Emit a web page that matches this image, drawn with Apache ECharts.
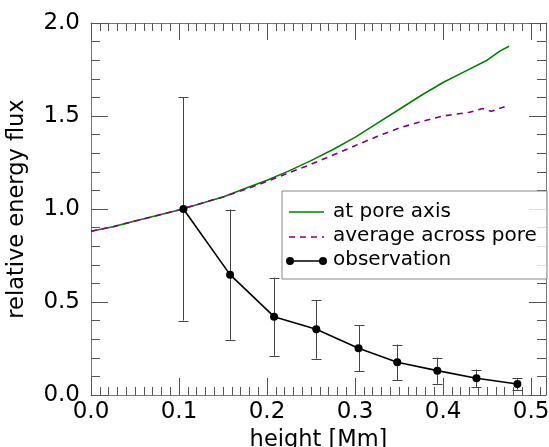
<!DOCTYPE html>
<html>
<head>
<meta charset="utf-8">
<script src="https://cdn.jsdelivr.net/npm/echarts@6/dist/echarts.min.js"></script>
<style>html,body{margin:0;padding:0;background:#fff;}#c{width:549px;height:447px;}</style>
</head>
<body>
<div id="c"></div>
<script>
// ---- data ----
const axisX = [0, 0.025, 0.05, 0.075, 0.1, 0.125, 0.15, 0.175, 0.2, 0.225, 0.25, 0.275, 0.3, 0.325, 0.35, 0.375, 0.4, 0.425, 0.45, 0.465, 0.475];
const axisY = [0.88, 0.905, 0.935, 0.965, 0.995, 1.03, 1.065, 1.11, 1.155, 1.205, 1.26, 1.32, 1.385, 1.46, 1.535, 1.61, 1.68, 1.74, 1.80, 1.85, 1.875];
const avgX = [0, 0.025, 0.05, 0.075, 0.1, 0.125, 0.15, 0.175, 0.2, 0.225, 0.25, 0.275, 0.3, 0.325, 0.35, 0.375, 0.4, 0.415, 0.43, 0.445, 0.455, 0.47];
const avgY = [0.88, 0.905, 0.935, 0.965, 0.995, 1.03, 1.065, 1.105, 1.148, 1.195, 1.24, 1.29, 1.34, 1.39, 1.435, 1.47, 1.50, 1.51, 1.52, 1.54, 1.525, 1.55];
const obsX = [0.105, 0.158, 0.208, 0.256, 0.304, 0.348, 0.3935, 0.438, 0.4845];
const obsY = [1.0, 0.647, 0.421, 0.353, 0.251, 0.176, 0.131, 0.09, 0.059];
const obsErr = [0.6, 0.35, 0.21, 0.158, 0.123, 0.095, 0.07, 0.047, 0.03];
const legendLabels = ['at pore axis', 'average across pore', 'observation'];
const xName = 'height [Mm]';
const yName = 'relative energy flux';

const FONT = 'DejaVu Sans';
const axisCol = '#777';
const tickCol = '#555';

function pairs(xs, ys) { return xs.map((x, i) => [x, ys[i]]); }

const baseX = {
  type: 'value', min: 0, max: 0.517, interval: 0.1,
  axisLine: { show: true, onZero: false, lineStyle: { color: axisCol, width: 1 } },
  axisTick: { show: true, inside: true, length: 17, lineStyle: { color: tickCol } },
  minorTick: { show: true, splitNumber: 10, length: 8, lineStyle: { color: tickCol } },
  splitLine: { show: false }
};
const baseY = {
  type: 'value', min: 0, max: 2, interval: 0.5,
  axisLine: { show: true, onZero: false, lineStyle: { color: axisCol, width: 1 } },
  axisTick: { show: true, inside: true, length: 17, lineStyle: { color: tickCol } },
  minorTick: { show: true, splitNumber: 5, length: 9, lineStyle: { color: tickCol } },
  splitLine: { show: false }
};

const chart = echarts.init(document.getElementById('c'), null, { renderer: 'canvas' });
const option = {
  animation: false,
  backgroundColor: '#fff',
  grid: { left: 91, right: 3, top: 23, bottom: 52, containLabel: false, outerBoundsMode: 'none' },
  xAxis: [
    Object.assign({}, baseX, {
      position: 'bottom',
      name: xName, nameLocation: 'middle', nameGap: 32,
      nameTextStyle: { fontFamily: FONT, fontSize: 22.5, color: '#000' },
      axisLabel: { show: true, fontFamily: FONT, fontSize: 23, color: '#000', margin: 6,
        formatter: v => v.toFixed(1) }
    }),
    Object.assign({}, baseX, { position: 'top', axisLabel: { show: false } })
  ],
  yAxis: [
    Object.assign({}, baseY, {
      position: 'left',
      name: yName, nameLocation: 'middle', nameGap: 62, nameRotate: 90,
      nameTextStyle: { fontFamily: FONT, fontSize: 22.5, color: '#000' },
      axisLabel: { show: true, fontFamily: FONT, fontSize: 23, color: '#000', margin: 11,
        formatter: v => v.toFixed(1) }
    }),
    Object.assign({}, baseY, { position: 'right', axisLabel: { show: false } })
  ],
  series: [
    {
      type: 'line', name: legendLabels[0], data: pairs(axisX, axisY),
      showSymbol: false, symbol: 'none', smooth: false,
      lineStyle: { color: '#008000', width: 1.6 }, z: 3
    },
    {
      type: 'line', name: legendLabels[1], data: pairs(avgX, avgY),
      showSymbol: false, symbol: 'none',
      lineStyle: { color: '#800080', width: 1.6, type: [6, 5] }, z: 4
    },
    {
      type: 'custom', name: 'errors',
      data: obsX.map((x, i) => [x, obsY[i] - obsErr[i], obsY[i] + obsErr[i]]),
      renderItem: function (params, api) {
        const lo = api.coord([api.value(0), api.value(1)]);
        const hi = api.coord([api.value(0), api.value(2)]);
        const x = Math.round(lo[0]) + 0.5;
        const cw = 5;
        const st = { stroke: '#444', lineWidth: 1 };
        return {
          type: 'group',
          children: [
            { type: 'line', shape: { x1: x, y1: lo[1], x2: x, y2: hi[1] }, style: st },
            { type: 'line', shape: { x1: x - cw, y1: Math.round(lo[1]) + 0.5, x2: x + cw, y2: Math.round(lo[1]) + 0.5 }, style: st },
            { type: 'line', shape: { x1: x - cw, y1: Math.round(hi[1]) + 0.5, x2: x + cw, y2: Math.round(hi[1]) + 0.5 }, style: st }
          ]
        };
      },
      z: 5
    },
    {
      type: 'line', name: legendLabels[2], data: pairs(obsX, obsY),
      symbol: 'circle', symbolSize: 8, showSymbol: true,
      itemStyle: { color: '#000' },
      lineStyle: { color: '#000', width: 1.6 }, z: 6
    }
  ],
  graphic: [
    { type: 'rect', shape: { x: 282, y: 191, width: 265, height: 88 },
      style: { fill: 'rgba(255,255,255,0.8)', stroke: '#888', lineWidth: 1 }, z: 100 },
    { type: 'line', shape: { x1: 289, y1: 212, x2: 324, y2: 212 }, style: { stroke: '#008000', lineWidth: 1.6 }, z: 101 },
    { type: 'line', shape: { x1: 289, y1: 237, x2: 324, y2: 237 }, style: { stroke: '#800080', lineWidth: 1.6, lineDash: [6, 5] }, z: 101 },
    { type: 'line', shape: { x1: 290, y1: 261, x2: 323, y2: 261 }, style: { stroke: '#000', lineWidth: 1.6 }, z: 101 },
    { type: 'circle', shape: { cx: 290, cy: 261, r: 4 }, style: { fill: '#000' }, z: 102 },
    { type: 'circle', shape: { cx: 323, cy: 261, r: 4 }, style: { fill: '#000' }, z: 102 },
    { type: 'text', x: 333, y: 212, style: { text: legendLabels[0], font: '20px "DejaVu Sans"', fill: '#000', verticalAlign: 'middle' }, z: 101 },
    { type: 'text', x: 333, y: 236, style: { text: legendLabels[1], font: '20px "DejaVu Sans"', fill: '#000', verticalAlign: 'middle' }, z: 101 },
    { type: 'text', x: 333, y: 260, style: { text: legendLabels[2], font: '20px "DejaVu Sans"', fill: '#000', verticalAlign: 'middle' }, z: 101 }
  ]
};
chart.setOption(option);
</script>
</body>
</html>
